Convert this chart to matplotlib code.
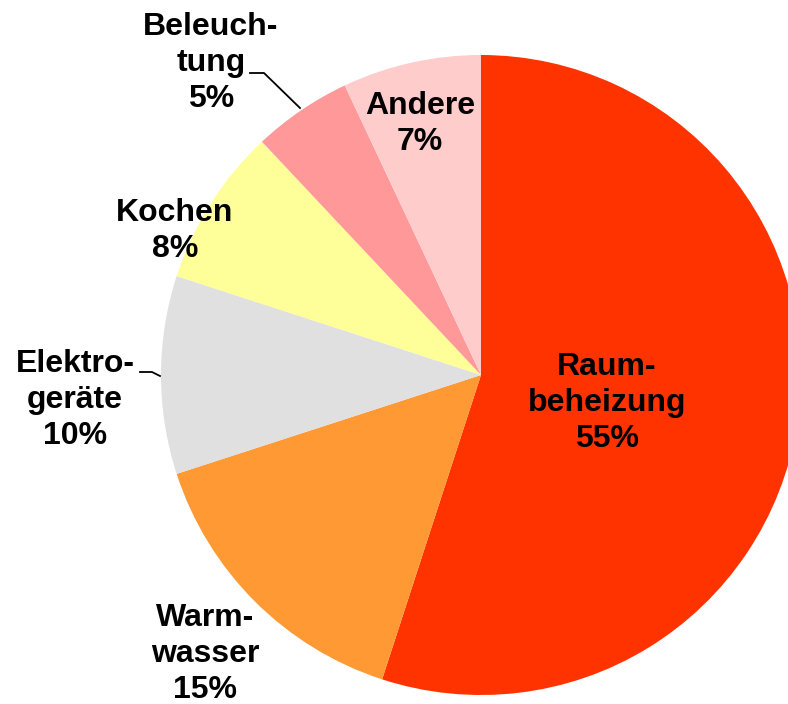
"""
Energy use in households: pie chart with German labels.
"""

import matplotlib.pyplot as plt

# Data
categories = ["Raum-\nbeheizung", "Warm-\nwasser", "Elektro-\ngeräte",
              "Kochen", "Beleuch-\ntung", "Andere"]
shares = [55, 15, 10, 8, 5, 7]
colors = ["#FF3300", "#FF9933", "#E0E0E0", "#FFFF99", "#FF9999", "#FFCCCC"]

# Label positions in pixel space (x from left, y from top)
label_pos = [(607, 403), (205, 654), (75, 400), (175, 231), (211, 63), (420, 124)]

W, H = 788, 704
fig = plt.figure(figsize=(W / 100, H / 100), dpi=100)
ax = fig.add_axes([0, 0, 1, 1])

ax.pie(shares, colors=colors, startangle=90, counterclock=False,
       center=(481, H - 375), radius=320, frame=True,
       wedgeprops=dict(linewidth=0))
ax.set_xlim(0, W)
ax.set_ylim(0, H)
ax.set_aspect("equal")
ax.axis("off")

for name, val, (x, y) in zip(categories, shares, label_pos):
    ax.text(x, H - y, f"{name}\n{val}%", ha="center", va="center",
            fontsize=23, fontweight="bold", family="Liberation Sans",
            linespacing=1.27, color="black")

# Leader lines
ax.plot([250, 264, 300], [H - 73, H - 73, H - 108], color="black", linewidth=1.3)
ax.plot([140, 152, 160], [H - 372, H - 372, H - 376], color="black", linewidth=1.3)

fig.savefig("out.png", dpi=100)
